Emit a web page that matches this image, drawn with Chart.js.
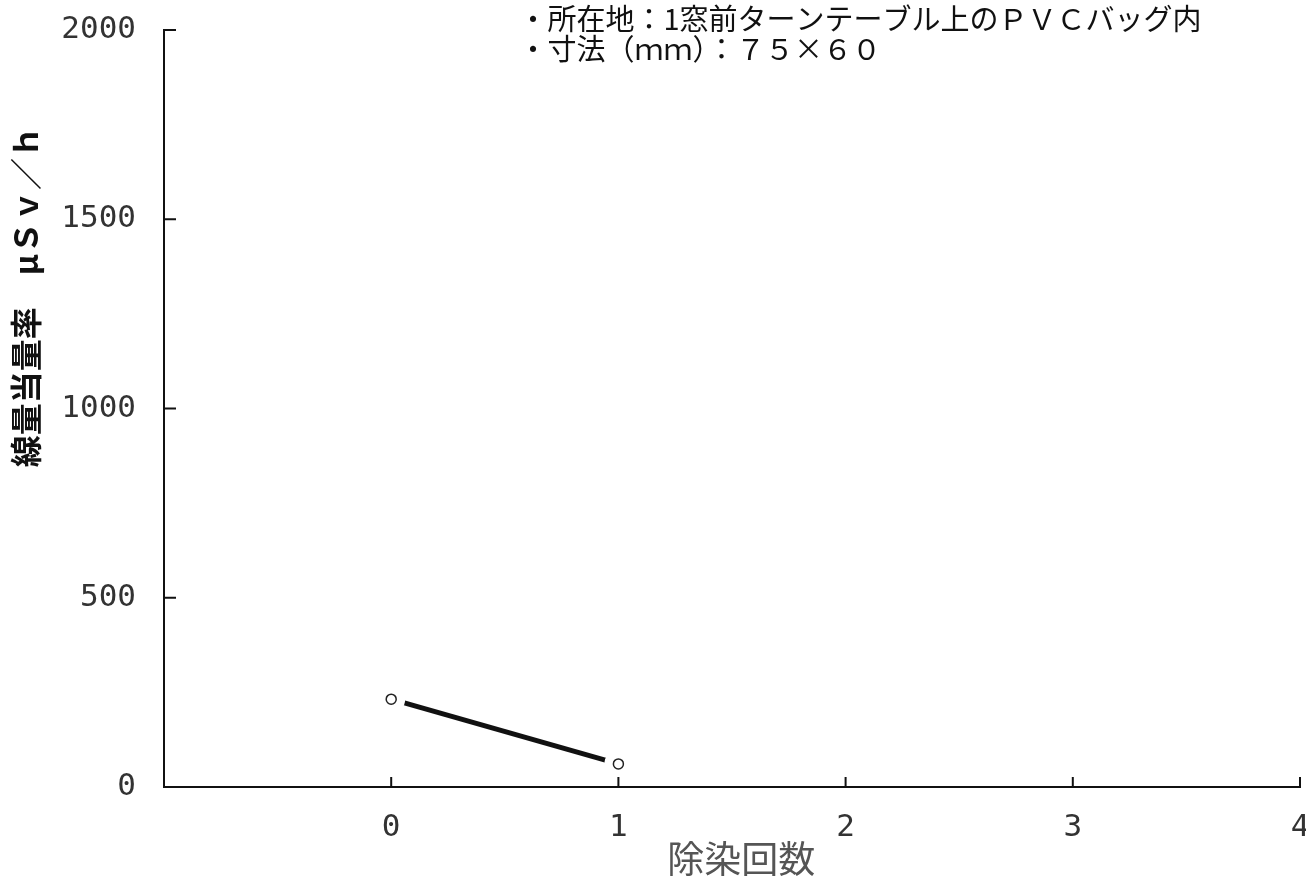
<!DOCTYPE html>
<html>
<head>
<meta charset="utf-8">
<script src="https://cdn.jsdelivr.net/npm/chart.js@4"></script>
<style>
  html, body { margin: 0; background: #fff; }
  #wrap { width: 1306px; height: 883px; }
</style>
</head>
<body>
<div id="wrap"><canvas id="chart"></canvas></div>
<script>
const counts = [0, 1];
const doseRates = [232, 61];
const yTicks = [0, 500, 1000, 1500, 2000];
const xTicks = [0, 1, 2, 3, 4];
const notes = ['・所在地：1窓前ターンテーブル上のＰＶＣバッグ内', '・寸法（ｍｍ）：７５×６０'];

const points = counts.map((c, i) => ({ x: c, y: doseRates[i] }));
const tickFont = { family: '"DejaVu Sans Mono", monospace', size: 31 };

// inward tick marks + the two note lines at the top
const extras = {
  id: 'extras',
  afterDraw(chart) {
    const { ctx, chartArea: a, scales: { x, y } } = chart;
    ctx.save();
    ctx.strokeStyle = '#111';
    ctx.lineWidth = 2;
    ctx.beginPath();
    yTicks.forEach(v => { const py = y.getPixelForValue(v); ctx.moveTo(a.left, py); ctx.lineTo(a.left + 12, py); });
    xTicks.forEach(v => { const px = x.getPixelForValue(v); ctx.moveTo(px, a.bottom); ctx.lineTo(px, a.bottom - 10); });
    ctx.stroke();

    ctx.fillStyle = '#111';
    ctx.font = '29px "Noto Sans CJK JP"';
    ctx.textBaseline = 'middle';
    notes.forEach((t, i) => ctx.fillText(t, x.getPixelForValue(0.56), 19 + i * 30));
    ctx.restore();
  }
};

new Chart(document.getElementById('chart'), {
  type: 'scatter',
  data: {
    datasets: [
      { data: points, showLine: false, pointRadius: 5, pointBorderWidth: 1.5,
        pointBorderColor: '#222', pointBackgroundColor: '#fff', order: 1 },
      { data: points, showLine: true, borderColor: '#111', borderWidth: 5,
        pointRadius: 14, pointBorderWidth: 0, pointBackgroundColor: '#fff', order: 2 }
    ]
  },
  options: {
    responsive: true,
    maintainAspectRatio: false,
    animation: false,
    devicePixelRatio: 1,
    layout: { autoPadding: false, padding: { top: 30, right: 6 } },
    plugins: { legend: { display: false }, tooltip: { enabled: false } },
    scales: {
      x: {
        type: 'linear', min: -1, max: 4,
        grid: { display: false, drawTicks: false },
        border: { color: '#111', width: 2 },
        ticks: { stepSize: 1, padding: 22, maxRotation: 0, color: '#333', font: tickFont,
                 callback: v => v < 0 ? '' : String(v) },
        title: { display: true, text: '\u2002除染回数', color: '#555',
                 font: { family: '"Noto Sans CJK JP"', size: 37 }, padding: { top: 0, bottom: 2 } },
        afterFit: s => { s.height = 96; s.paddingLeft = 0; s.paddingRight = 0; }
      },
      y: {
        min: 0, max: 2000,
        grid: { display: false, drawTicks: false },
        border: { color: '#111', width: 2 },
        ticks: { stepSize: 500, padding: 28, color: '#333', font: tickFont,
                 callback: v => String(v) },
        title: { display: true, text: '線量当量率　μＳｖ／ｈ　　　', align: 'end', color: '#111',
                 font: { family: '"Noto Sans CJK JP"', size: 32, weight: 'bold' }, padding: { top: 7 } },
        afterFit: s => { s.width = 164; s.paddingTop = 0; s.paddingBottom = 0; }
      }
    }
  },
  plugins: [extras]
});
</script>
</body>
</html>
